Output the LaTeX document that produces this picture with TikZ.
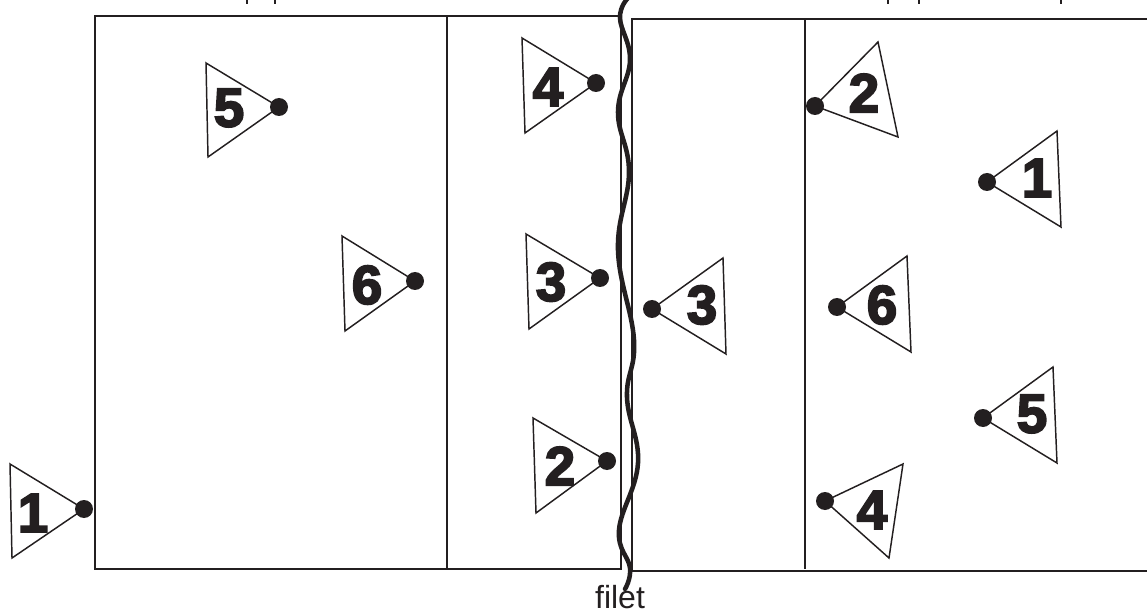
\documentclass[tikz,border=0pt]{standalone}
\usepackage{fontspec}
\setmainfont{Liberation Sans}
\newfontfamily\numfont[FakeBold=3.5]{Liberation Sans Bold}
\definecolor{encre}{HTML}{231F20}
\tikzset{
    terrain/.style={encre,line width=1.15pt},
    tri/.style={encre,line width=1.1pt,line join=miter},
    joueur/.style={circle,fill=encre,inner sep=0pt,minimum size=13.5pt},
    numero/.style={encre,inner sep=0pt,font=\numfont\fontsize{41}{41}\selectfont},
    filetline/.style={encre,line width=3.4pt,line cap=round},
    talon/.style={encre,line width=1.9pt}
}
\begin{document}
\begin{tikzpicture}[x=.75pt,y=-.75pt]
    \useasboundingbox (0,0) rectangle (1147,613);

    % Terrains.
    \draw[terrain] (621,16) -- (95,16) -- (95,569) -- (621,569) -- cycle;
    \draw[terrain] (447,16) -- (447,569);
    \draw[terrain] (1147,19) -- (632,19) -- (632,571) -- (1147,571);
    \draw[terrain] (805,19) -- (805,569);

    % Bas des lettres coupées en haut de la page.
    \foreach \xt in {247,275,888,919,1061} {
        \draw[talon] (\xt,0) -- (\xt,4);
    }

    % Filet.
    \draw[filetline] plot[smooth,tension=.7] coordinates {
        (628,-2) (620,18) (630,60) (618,112) (629,172) (618,250)
        (634,340) (627,397) (638,463) (619,530) (630,568) (625,589)};
    \node[encre,inner sep=0pt,font=\fontsize{24}{24}\selectfont] (filet) at (620,597) {filet};

    % Joueurs : nom, point, sommets, position du numero.
    \foreach \pl/\px/\py/\ax/\ay/\bx/\by/\lx/\ly/\num in {
        ga/84/509/10/464/12/558/33/513/1,
        gb/607/461/533/418/536/513/560/466/2,
        gc/600/278/526/234/529/329/551/282/3,
        gd/596/83/522/38/525/133/548/87/4,
        ge/279/107/206/63/208/157/229/108/5,
        gf/415/281/342/236/345/331/367/285/6,
        da/987/182/1057/131/1061/227/1037/178/1,
        db/815/106/878/42/898/137/864/93/2,
        dc/652/309/723/258/726/354/702/305/3,
        dd/825/501/903/464/889/558/872/510/4,
        de/983/418/1053/367/1057/463/1032/414/5,
        df/837/307/907/256/911/352/882/305/6} {
        \draw[tri] (\px,\py) -- (\ax,\ay) -- (\bx,\by) -- cycle;
        \node[joueur] (\pl) at (\px,\py) {};
        \node[numero] (\pl n) at (\lx,\ly) {\num};
    }
\end{tikzpicture}
\end{document}
